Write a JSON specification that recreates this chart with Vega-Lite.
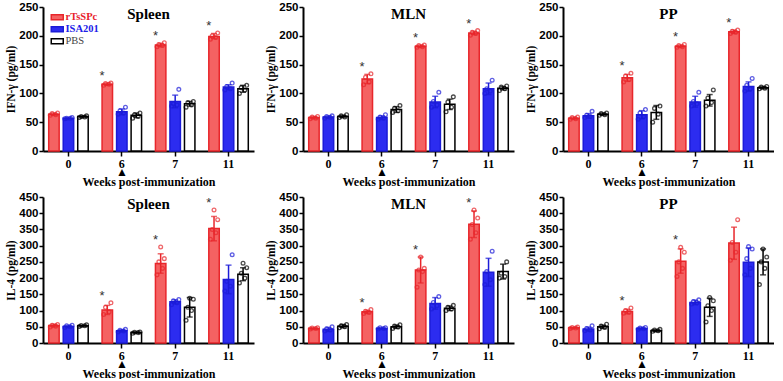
{
"$schema": "https://vega.github.io/schema/vega-lite/v6.json",
"background": "white",
"padding": {"left": 5, "top": 1, "right": 0, "bottom": 0},
"config": {
  "view": {"stroke": null},
  "font": "Liberation Sans",
  "title": {"font": "Liberation Serif", "fontSize": 15, "fontWeight": "bold", "color": "black", "anchor": "middle", "frame": "group", "baseline": "top", "offset": -21},
  "axis": {"domainColor": "black", "domainWidth": 2, "tickColor": "black", "tickWidth": 1.5, "labelFont": "Liberation Sans", "labelFontWeight": "bold", "labelFontSize": 11.5, "labelColor": "black", "titleFont": "Liberation Serif", "titleFontWeight": "bold", "titleFontSize": 11.5, "titleColor": "black", "grid": false},
  "axisY": {"labelPadding": 1, "titlePadding": 2, "tickSize": 4},
  "axisX": {"labelAngle": 0, "tickSize": 5, "labelPadding": 2, "titlePadding": -1, "labelLineHeight": 8, "labelFont": "Liberation Serif", "labelFontSize": 12, "titleFontSize": 12},
  "legend": {"symbolType": "M-1.5,-0.6H1.5V0.6H-1.5Z", "symbolSize": 64, "symbolStrokeWidth": 1.5, "labelFont": "Liberation Serif", "labelFontSize": 10.5, "labelFontWeight": "bold", "rowPadding": 0, "labelOffset": 3, "padding": 0}
},
"datasets": {
  "b": [
    {"P":"SI","w":"0","g":"rTsSPc","m":64,"lo":62,"hi":66},{"P":"SI","w":"0","g":"ISA201","m":57,"lo":56,"hi":58},{"P":"SI","w":"0","g":"PBS","m":60,"lo":58,"hi":61},
    {"P":"SI","w":"6","g":"rTsSPc","m":116,"lo":114,"hi":118},{"P":"SI","w":"6","g":"ISA201","m":68,"lo":63,"hi":73},{"P":"SI","w":"6","g":"PBS","m":62,"lo":58,"hi":66},
    {"P":"SI","w":"7","g":"rTsSPc","m":184,"lo":181,"hi":187},{"P":"SI","w":"7","g":"ISA201","m":86,"lo":75,"hi":97},{"P":"SI","w":"7","g":"PBS","m":82,"lo":78,"hi":86},
    {"P":"SI","w":"11","g":"rTsSPc","m":199,"lo":195,"hi":204},{"P":"SI","w":"11","g":"ISA201","m":111,"lo":107,"hi":115},{"P":"SI","w":"11","g":"PBS","m":108,"lo":102,"hi":114},
    {"P":"MI","w":"0","g":"rTsSPc","m":58,"lo":56,"hi":60},{"P":"MI","w":"0","g":"ISA201","m":59,"lo":57,"hi":61},{"P":"MI","w":"0","g":"PBS","m":60,"lo":58,"hi":62},
    {"P":"MI","w":"6","g":"rTsSPc","m":125,"lo":117,"hi":133},{"P":"MI","w":"6","g":"ISA201","m":58,"lo":55,"hi":61},{"P":"MI","w":"6","g":"PBS","m":72,"lo":67,"hi":77},
    {"P":"MI","w":"7","g":"rTsSPc","m":182,"lo":180,"hi":184},{"P":"MI","w":"7","g":"ISA201","m":85,"lo":75,"hi":95},{"P":"MI","w":"7","g":"PBS","m":81,"lo":72,"hi":90},
    {"P":"MI","w":"11","g":"rTsSPc","m":205,"lo":202,"hi":208},{"P":"MI","w":"11","g":"ISA201","m":108,"lo":98,"hi":118},{"P":"MI","w":"11","g":"PBS","m":109,"lo":106,"hi":112},
    {"P":"PI","w":"0","g":"rTsSPc","m":57,"lo":55,"hi":59},{"P":"PI","w":"0","g":"ISA201","m":61,"lo":57,"hi":65},{"P":"PI","w":"0","g":"PBS","m":64,"lo":62,"hi":66},
    {"P":"PI","w":"6","g":"rTsSPc","m":127,"lo":121,"hi":133},{"P":"PI","w":"6","g":"ISA201","m":63,"lo":56,"hi":70},{"P":"PI","w":"6","g":"PBS","m":67,"lo":55,"hi":79},
    {"P":"PI","w":"7","g":"rTsSPc","m":182,"lo":180,"hi":184},{"P":"PI","w":"7","g":"ISA201","m":85,"lo":76,"hi":95},{"P":"PI","w":"7","g":"PBS","m":88,"lo":78,"hi":98},
    {"P":"PI","w":"11","g":"rTsSPc","m":207,"lo":204,"hi":210},{"P":"PI","w":"11","g":"ISA201","m":112,"lo":104,"hi":120},{"P":"PI","w":"11","g":"PBS","m":110,"lo":108,"hi":112},
    {"P":"SL","w":"0","g":"rTsSPc","m":54,"lo":50,"hi":58},{"P":"SL","w":"0","g":"ISA201","m":51,"lo":48,"hi":54},{"P":"SL","w":"0","g":"PBS","m":53,"lo":51,"hi":55},
    {"P":"SL","w":"6","g":"rTsSPc","m":102,"lo":88,"hi":116},{"P":"SL","w":"6","g":"ISA201","m":38,"lo":35,"hi":41},{"P":"SL","w":"6","g":"PBS","m":32,"lo":30,"hi":34},
    {"P":"SL","w":"7","g":"rTsSPc","m":245,"lo":215,"hi":275},{"P":"SL","w":"7","g":"ISA201","m":127,"lo":121,"hi":133},{"P":"SL","w":"7","g":"PBS","m":110,"lo":80,"hi":140},
    {"P":"SL","w":"11","g":"rTsSPc","m":353,"lo":315,"hi":390},{"P":"SL","w":"11","g":"ISA201","m":196,"lo":152,"hi":240},{"P":"SL","w":"11","g":"PBS","m":212,"lo":192,"hi":232},
    {"P":"ML","w":"0","g":"rTsSPc","m":45,"lo":43,"hi":47},{"P":"ML","w":"0","g":"ISA201","m":42,"lo":36,"hi":48},{"P":"ML","w":"0","g":"PBS","m":52,"lo":47,"hi":57},
    {"P":"ML","w":"6","g":"rTsSPc","m":96,"lo":91,"hi":101},{"P":"ML","w":"6","g":"ISA201","m":45,"lo":43,"hi":47},{"P":"ML","w":"6","g":"PBS","m":50,"lo":45,"hi":55},
    {"P":"ML","w":"7","g":"rTsSPc","m":225,"lo":185,"hi":265},{"P":"ML","w":"7","g":"ISA201","m":122,"lo":104,"hi":140},{"P":"ML","w":"7","g":"PBS","m":107,"lo":100,"hi":114},
    {"P":"ML","w":"11","g":"rTsSPc","m":366,"lo":325,"hi":407},{"P":"ML","w":"11","g":"ISA201","m":218,"lo":175,"hi":261},{"P":"ML","w":"11","g":"PBS","m":220,"lo":197,"hi":243},
    {"P":"PL","w":"0","g":"rTsSPc","m":47,"lo":45,"hi":49},{"P":"PL","w":"0","g":"ISA201","m":43,"lo":37,"hi":49},{"P":"PL","w":"0","g":"PBS","m":50,"lo":45,"hi":55},
    {"P":"PL","w":"6","g":"rTsSPc","m":97,"lo":90,"hi":104},{"P":"PL","w":"6","g":"ISA201","m":45,"lo":42,"hi":48},{"P":"PL","w":"6","g":"PBS","m":38,"lo":35,"hi":41},
    {"P":"PL","w":"7","g":"rTsSPc","m":252,"lo":215,"hi":290},{"P":"PL","w":"7","g":"ISA201","m":125,"lo":118,"hi":132},{"P":"PL","w":"7","g":"PBS","m":110,"lo":82,"hi":138},
    {"P":"PL","w":"11","g":"rTsSPc","m":308,"lo":258,"hi":357},{"P":"PL","w":"11","g":"ISA201","m":249,"lo":205,"hi":293},{"P":"PL","w":"11","g":"PBS","m":250,"lo":210,"hi":290}
  ],
  "pts": [
    {"P":"SI","w":"0","g":"rTsSPc","v":[62,63,65,66],"k":[1,4,2,5]},{"P":"SI","w":"0","g":"ISA201","v":[56,57,57,58],"k":[1,4,2,5]},{"P":"SI","w":"0","g":"PBS","v":[58,59,60,61],"k":[1,4,2,5]},
    {"P":"SI","w":"6","g":"rTsSPc","v":[114,116,117,118],"k":[1,4,2,5]},{"P":"SI","w":"6","g":"ISA201","v":[64,66,70,76],"k":[1,4,2,5]},{"P":"SI","w":"6","g":"PBS","v":[57,60,63,66],"k":[1,4,2,5]},
    {"P":"SI","w":"7","g":"rTsSPc","v":[181,183,185,188],"k":[1,4,2,5]},{"P":"SI","w":"7","g":"ISA201","v":[78,80,82,107],"k":[1,4,2,5]},{"P":"SI","w":"7","g":"PBS","v":[76,80,84,86],"k":[1,4,2,5]},
    {"P":"SI","w":"11","g":"rTsSPc","v":[194,197,200,205],"k":[1,4,2,5]},{"P":"SI","w":"11","g":"ISA201","v":[106,108,112,118],"k":[1,4,2,5]},{"P":"SI","w":"11","g":"PBS","v":[100,106,110,114],"k":[1,4,2,5]},
    {"P":"MI","w":"0","g":"rTsSPc","v":[56,57,59,60],"k":[1,4,2,5]},{"P":"MI","w":"0","g":"ISA201","v":[57,58,60,61],"k":[1,4,2,5]},{"P":"MI","w":"0","g":"PBS","v":[58,59,61,63],"k":[1,4,2,5]},
    {"P":"MI","w":"6","g":"rTsSPc","v":[115,120,128,134],"k":[1,4,2,5]},{"P":"MI","w":"6","g":"ISA201","v":[55,57,59,63],"k":[1,4,2,5]},{"P":"MI","w":"6","g":"PBS","v":[67,70,74,79],"k":[1,4,2,5]},
    {"P":"MI","w":"7","g":"rTsSPc","v":[180,181,183,184],"k":[1,4,2,5]},{"P":"MI","w":"7","g":"ISA201","v":[76,80,86,102],"k":[1,4,2,5]},{"P":"MI","w":"7","g":"PBS","v":[68,76,85,94],"k":[1,4,2,5]},
    {"P":"MI","w":"11","g":"rTsSPc","v":[201,204,206,209],"k":[1,4,2,5]},{"P":"MI","w":"11","g":"ISA201","v":[100,104,108,123],"k":[1,4,2,5]},{"P":"MI","w":"11","g":"PBS","v":[105,108,111,113],"k":[1,4,2,5]},
    {"P":"PI","w":"0","g":"rTsSPc","v":[55,56,58,59],"k":[1,4,2,5]},{"P":"PI","w":"0","g":"ISA201","v":[58,60,62,69],"k":[1,4,2,5]},{"P":"PI","w":"0","g":"PBS","v":[62,63,65,66],"k":[1,4,2,5]},
    {"P":"PI","w":"6","g":"rTsSPc","v":[120,124,130,135],"k":[1,4,2,5]},{"P":"PI","w":"6","g":"ISA201","v":[55,60,66,72],"k":[1,4,2,5]},{"P":"PI","w":"6","g":"PBS","v":[50,64,74,78],"k":[1,4,2,5]},
    {"P":"PI","w":"7","g":"rTsSPc","v":[180,181,183,185],"k":[1,4,2,5]},{"P":"PI","w":"7","g":"ISA201","v":[78,82,86,102],"k":[1,4,2,5]},{"P":"PI","w":"7","g":"PBS","v":[78,84,92,106],"k":[1,4,2,5]},
    {"P":"PI","w":"11","g":"rTsSPc","v":[204,206,208,210],"k":[1,4,2,5]},{"P":"PI","w":"11","g":"ISA201","v":[104,108,114,126],"k":[1,4,2,5]},{"P":"PI","w":"11","g":"PBS","v":[108,109,111,112],"k":[1,4,2,5]},
    {"P":"SL","w":"0","g":"rTsSPc","v":[49,52,55,57],"k":[1,4,2,5]},{"P":"SL","w":"0","g":"ISA201","v":[48,50,53,55],"k":[1,4,2,5]},{"P":"SL","w":"0","g":"PBS","v":[51,53,54,56],"k":[1,4,2,5]},
    {"P":"SL","w":"6","g":"rTsSPc","v":[88,96,110,124],"k":[1,4,2,5]},{"P":"SL","w":"6","g":"ISA201","v":[34,37,39,42],"k":[1,4,2,5]},{"P":"SL","w":"6","g":"PBS","v":[30,32,33,34],"k":[1,4,2,5]},
    {"P":"SL","w":"7","g":"rTsSPc","v":[210,230,250,260,296],"k":[1,4,2,5,3]},{"P":"SL","w":"7","g":"ISA201","v":[118,124,130,134],"k":[1,4,2,5]},{"P":"SL","w":"7","g":"PBS","v":[70,100,110,135,138],"k":[1,4,2,5,3]},
    {"P":"SL","w":"11","g":"rTsSPc","v":[320,340,350,380,410],"k":[1,4,2,5,3]},{"P":"SL","w":"11","g":"ISA201","v":[160,175,190,272],"k":[1,4,2,5]},{"P":"SL","w":"11","g":"PBS","v":[185,200,215,232,246],"k":[1,4,2,5,3]},
    {"P":"ML","w":"0","g":"rTsSPc","v":[43,45,46,47],"k":[1,4,2,5]},{"P":"ML","w":"0","g":"ISA201","v":[37,40,44,50],"k":[1,4,2,5]},{"P":"ML","w":"0","g":"PBS","v":[47,50,53,57],"k":[1,4,2,5]},
    {"P":"ML","w":"6","g":"rTsSPc","v":[91,94,98,103],"k":[1,4,2,5]},{"P":"ML","w":"6","g":"ISA201","v":[43,45,47,47],"k":[1,4,2,5]},{"P":"ML","w":"6","g":"PBS","v":[45,49,52,56],"k":[1,4,2,5]},
    {"P":"ML","w":"7","g":"rTsSPc","v":[172,220,225,230,265],"k":[1,4,2,5,3]},{"P":"ML","w":"7","g":"ISA201","v":[105,115,125,143],"k":[1,4,2,5]},{"P":"ML","w":"7","g":"PBS","v":[100,105,110,116],"k":[1,4,2,5]},
    {"P":"ML","w":"11","g":"rTsSPc","v":[320,340,365,385,410],"k":[1,4,2,5,3]},{"P":"ML","w":"11","g":"ISA201","v":[180,195,220,283],"k":[1,4,2,5]},{"P":"ML","w":"11","g":"PBS","v":[200,205,215,250],"k":[1,4,2,5]},
    {"P":"PL","w":"0","g":"rTsSPc","v":[45,46,48,49],"k":[1,4,2,5]},{"P":"PL","w":"0","g":"ISA201","v":[38,40,45,53],"k":[1,4,2,5]},{"P":"PL","w":"0","g":"PBS","v":[44,48,52,58],"k":[1,4,2,5]},
    {"P":"PL","w":"6","g":"rTsSPc","v":[92,95,100,108],"k":[1,4,2,5]},{"P":"PL","w":"6","g":"ISA201","v":[42,44,46,48],"k":[1,4,2,5]},{"P":"PL","w":"6","g":"PBS","v":[36,38,40,42],"k":[1,4,2,5]},
    {"P":"PL","w":"7","g":"rTsSPc","v":[205,230,250,280,295],"k":[1,4,2,5,3]},{"P":"PL","w":"7","g":"ISA201","v":[120,124,128,133],"k":[1,4,2,5]},{"P":"PL","w":"7","g":"PBS","v":[65,100,115,130,140],"k":[1,4,2,5,3]},
    {"P":"PL","w":"11","g":"rTsSPc","v":[255,280,310,380],"k":[1,4,2,5]},{"P":"PL","w":"11","g":"ISA201","v":[210,230,260,290,297],"k":[1,4,2,5,3]},{"P":"PL","w":"11","g":"PBS","v":[180,230,250,265,290],"k":[1,4,2,5,3]}
  ]
},
"spacing": 4,
"vconcat": [
 {"spacing": 11, "hconcat": [
  {"width": 211, "height": 144, "title": "Spleen", "resolve": {"scale": {"xOffset": "independent"}},
   "encoding": {"x": {"field": "w", "type": "nominal", "sort": ["0","6","7","11"], "scale": {"paddingInner": 0.26, "paddingOuter": 0.107}, "axis": {"title": "Weeks post-immunization", "labelExpr": "datum.value=='6'?['6','▲']:datum.label"}}},
   "layer": [
    {"data": {"name": "b"}, "transform": [{"filter": "datum.P=='SI'"}], "mark": {"type": "bar", "strokeWidth": 1.5},
     "encoding": {"xOffset": {"field": "g", "type": "nominal", "scale": {"domain": ["rTsSPc","ISA201","PBS"], "paddingInner": 0.28, "paddingOuter": 0}},
      "y": {"field": "m", "type": "quantitative", "scale": {"domain": [0,250], "nice": false}, "axis": {"title": "IFN-γ (pg/ml)", "values": [0,50,100,150,200,250]}},
      "fill": {"field": "g", "type": "nominal", "scale": {"domain": ["rTsSPc","ISA201","PBS"], "range": ["#f46262","#2c2cf0","#ffffff"]}, "legend": {"title": null, "orient": "none", "legendX": 9, "legendY": 5, "encode": {"labels": {"update": {"fill": {"signal": "datum.label=='rTsSPc'?'#e8212a':datum.label=='ISA201'?'#2020e8':'#444444'"}, "fontWeight": {"signal": "datum.label=='PBS'?'normal':'bold'"}}}}}},
      "stroke": {"field": "g", "type": "nominal", "scale": {"domain": ["rTsSPc","ISA201","PBS"], "range": ["#e8262b","#1c1cd8","#000000"]}, "legend": {"title": null, "orient": "none", "legendX": 9, "legendY": 5, "encode": {"labels": {"update": {"fill": {"signal": "datum.label=='rTsSPc'?'#e8212a':datum.label=='ISA201'?'#2020e8':'#444444'"}, "fontWeight": {"signal": "datum.label=='PBS'?'normal':'bold'"}}}}}}}},
    {"data": {"name": "b"}, "transform": [{"filter": "datum.P=='SI'"}], "mark": {"type": "rule", "strokeWidth": 1.5},
     "encoding": {"xOffset": {"field": "g", "type": "nominal", "scale": {"domain": ["rTsSPc","ISA201","PBS"], "paddingInner": 0.28, "paddingOuter": 0}}, "y": {"field": "lo", "type": "quantitative", "axis": {"title": "IFN-γ (pg/ml)", "values": [0,50,100,150,200,250]}}, "y2": {"field": "hi"}, "stroke": {"field": "g", "type": "nominal", "legend": null}}},
    {"data": {"name": "b"}, "transform": [{"filter": "datum.P=='SI'"}], "mark": {"type": "tick", "orient": "horizontal", "size": 6, "thickness": 1.5},
     "encoding": {"xOffset": {"field": "g", "type": "nominal", "scale": {"domain": ["rTsSPc","ISA201","PBS"], "paddingInner": 0.28, "paddingOuter": 0}}, "y": {"field": "hi", "type": "quantitative", "axis": {"title": "IFN-γ (pg/ml)", "values": [0,50,100,150,200,250]}}, "color": {"field": "g", "type": "nominal", "scale": {"domain": ["rTsSPc","ISA201","PBS"], "range": ["#e8262b","#1c1cd8","#000000"]}, "legend": null}}},
    {"data": {"name": "b"}, "transform": [{"filter": "datum.P=='SI'"}], "mark": {"type": "tick", "orient": "horizontal", "size": 6, "thickness": 1.5},
     "encoding": {"xOffset": {"field": "g", "type": "nominal", "scale": {"domain": ["rTsSPc","ISA201","PBS"], "paddingInner": 0.28, "paddingOuter": 0}}, "y": {"field": "lo", "type": "quantitative", "axis": {"title": "IFN-γ (pg/ml)", "values": [0,50,100,150,200,250]}}, "color": {"field": "g", "type": "nominal", "scale": {"domain": ["rTsSPc","ISA201","PBS"], "range": ["#e8262b","#1c1cd8","#000000"]}, "legend": null}}},
    {"data": {"name": "pts"}, "transform": [{"filter": "datum.P=='SI'"}, {"flatten": ["v","k"]}, {"calculate": "datum.g+'-'+datum.k", "as": "s"}], "mark": {"type": "point", "filled": false, "size": 14, "strokeWidth": 1.3},
     "encoding": {"xOffset": {"field": "s", "type": "nominal", "scale": {"type": "point", "padding": 0.885, "domain": ["rTsSPc-1","rTsSPc-2","rTsSPc-3","rTsSPc-4","rTsSPc-5","a1","a2","a3","ISA201-1","ISA201-2","ISA201-3","ISA201-4","ISA201-5","b1","b2","b3","PBS-1","PBS-2","PBS-3","PBS-4","PBS-5"]}}, "y": {"field": "v", "type": "quantitative", "axis": {"title": "IFN-γ (pg/ml)", "values": [0,50,100,150,200,250]}}, "stroke": {"field": "g", "type": "nominal", "legend": null}}},
    {"data": {"name": "pts"}, "transform": [{"filter": "datum.P=='SI'&&datum.g=='rTsSPc'&&datum.w!='0'"}, {"flatten": ["v"]}, {"aggregate": [{"op": "max", "field": "v", "as": "top"}], "groupby": ["w","g"]}], "mark": {"type": "text", "text": "*", "baseline": "bottom", "fontSize": 13, "font": "Liberation Sans", "color": "#333333"},
     "encoding": {"xOffset": {"field": "g", "type": "nominal", "scale": {"domain": ["rTsSPc","ISA201","PBS"], "paddingInner": 0.28, "paddingOuter": 0}}, "y": {"field": "top", "type": "quantitative", "axis": {"title": "IFN-γ (pg/ml)", "values": [0,50,100,150,200,250]}}}}
   ]},
  {"width": 211, "height": 144, "title": "MLN", "resolve": {"scale": {"xOffset": "independent"}},
   "encoding": {"x": {"field": "w", "type": "nominal", "sort": ["0","6","7","11"], "scale": {"paddingInner": 0.26, "paddingOuter": 0.107}, "axis": {"title": "Weeks post-immunization", "labelExpr": "datum.value=='6'?['6','▲']:datum.label"}}},
   "layer": [
    {"data": {"name": "b"}, "transform": [{"filter": "datum.P=='MI'"}], "mark": {"type": "bar", "strokeWidth": 1.5},
     "encoding": {"xOffset": {"field": "g", "type": "nominal", "scale": {"domain": ["rTsSPc","ISA201","PBS"], "paddingInner": 0.28, "paddingOuter": 0}},
      "y": {"field": "m", "type": "quantitative", "scale": {"domain": [0,250], "nice": false}, "axis": {"title": "IFN-γ (pg/ml)", "values": [0,50,100,150,200,250]}},
      "fill": {"field": "g", "type": "nominal", "scale": {"domain": ["rTsSPc","ISA201","PBS"], "range": ["#f46262","#2c2cf0","#ffffff"]}, "legend": {"title": null, "orient": "none", "legendX": 9, "legendY": 5, "encode": {"labels": {"update": {"fill": {"signal": "datum.label=='rTsSPc'?'#e8212a':datum.label=='ISA201'?'#2020e8':'#444444'"}, "fontWeight": {"signal": "datum.label=='PBS'?'normal':'bold'"}}}}}},
      "stroke": {"field": "g", "type": "nominal", "scale": {"domain": ["rTsSPc","ISA201","PBS"], "range": ["#e8262b","#1c1cd8","#000000"]}, "legend": {"title": null, "orient": "none", "legendX": 9, "legendY": 5, "encode": {"labels": {"update": {"fill": {"signal": "datum.label=='rTsSPc'?'#e8212a':datum.label=='ISA201'?'#2020e8':'#444444'"}, "fontWeight": {"signal": "datum.label=='PBS'?'normal':'bold'"}}}}}}}},
    {"data": {"name": "b"}, "transform": [{"filter": "datum.P=='MI'"}], "mark": {"type": "rule", "strokeWidth": 1.5},
     "encoding": {"xOffset": {"field": "g", "type": "nominal", "scale": {"domain": ["rTsSPc","ISA201","PBS"], "paddingInner": 0.28, "paddingOuter": 0}}, "y": {"field": "lo", "type": "quantitative", "axis": {"title": "IFN-γ (pg/ml)", "values": [0,50,100,150,200,250]}}, "y2": {"field": "hi"}, "stroke": {"field": "g", "type": "nominal", "legend": null}}},
    {"data": {"name": "b"}, "transform": [{"filter": "datum.P=='MI'"}], "mark": {"type": "tick", "orient": "horizontal", "size": 6, "thickness": 1.5},
     "encoding": {"xOffset": {"field": "g", "type": "nominal", "scale": {"domain": ["rTsSPc","ISA201","PBS"], "paddingInner": 0.28, "paddingOuter": 0}}, "y": {"field": "hi", "type": "quantitative", "axis": {"title": "IFN-γ (pg/ml)", "values": [0,50,100,150,200,250]}}, "color": {"field": "g", "type": "nominal", "scale": {"domain": ["rTsSPc","ISA201","PBS"], "range": ["#e8262b","#1c1cd8","#000000"]}, "legend": null}}},
    {"data": {"name": "b"}, "transform": [{"filter": "datum.P=='MI'"}], "mark": {"type": "tick", "orient": "horizontal", "size": 6, "thickness": 1.5},
     "encoding": {"xOffset": {"field": "g", "type": "nominal", "scale": {"domain": ["rTsSPc","ISA201","PBS"], "paddingInner": 0.28, "paddingOuter": 0}}, "y": {"field": "lo", "type": "quantitative", "axis": {"title": "IFN-γ (pg/ml)", "values": [0,50,100,150,200,250]}}, "color": {"field": "g", "type": "nominal", "scale": {"domain": ["rTsSPc","ISA201","PBS"], "range": ["#e8262b","#1c1cd8","#000000"]}, "legend": null}}},
    {"data": {"name": "pts"}, "transform": [{"filter": "datum.P=='MI'"}, {"flatten": ["v","k"]}, {"calculate": "datum.g+'-'+datum.k", "as": "s"}], "mark": {"type": "point", "filled": false, "size": 14, "strokeWidth": 1.3},
     "encoding": {"xOffset": {"field": "s", "type": "nominal", "scale": {"type": "point", "padding": 0.885, "domain": ["rTsSPc-1","rTsSPc-2","rTsSPc-3","rTsSPc-4","rTsSPc-5","a1","a2","a3","ISA201-1","ISA201-2","ISA201-3","ISA201-4","ISA201-5","b1","b2","b3","PBS-1","PBS-2","PBS-3","PBS-4","PBS-5"]}}, "y": {"field": "v", "type": "quantitative", "axis": {"title": "IFN-γ (pg/ml)", "values": [0,50,100,150,200,250]}}, "stroke": {"field": "g", "type": "nominal", "legend": null}}},
    {"data": {"name": "pts"}, "transform": [{"filter": "datum.P=='MI'&&datum.g=='rTsSPc'&&datum.w!='0'"}, {"flatten": ["v"]}, {"aggregate": [{"op": "max", "field": "v", "as": "top"}], "groupby": ["w","g"]}], "mark": {"type": "text", "text": "*", "baseline": "bottom", "fontSize": 13, "font": "Liberation Sans", "color": "#333333"},
     "encoding": {"xOffset": {"field": "g", "type": "nominal", "scale": {"domain": ["rTsSPc","ISA201","PBS"], "paddingInner": 0.28, "paddingOuter": 0}}, "y": {"field": "top", "type": "quantitative", "axis": {"title": "IFN-γ (pg/ml)", "values": [0,50,100,150,200,250]}}}}
   ]},
  {"width": 211, "height": 144, "title": "PP", "resolve": {"scale": {"xOffset": "independent"}},
   "encoding": {"x": {"field": "w", "type": "nominal", "sort": ["0","6","7","11"], "scale": {"paddingInner": 0.26, "paddingOuter": 0.107}, "axis": {"title": "Weeks post-immunization", "labelExpr": "datum.value=='6'?['6','▲']:datum.label"}}},
   "layer": [
    {"data": {"name": "b"}, "transform": [{"filter": "datum.P=='PI'"}], "mark": {"type": "bar", "strokeWidth": 1.5},
     "encoding": {"xOffset": {"field": "g", "type": "nominal", "scale": {"domain": ["rTsSPc","ISA201","PBS"], "paddingInner": 0.28, "paddingOuter": 0}},
      "y": {"field": "m", "type": "quantitative", "scale": {"domain": [0,250], "nice": false}, "axis": {"title": "IFN-γ (pg/ml)", "values": [0,50,100,150,200,250]}},
      "fill": {"field": "g", "type": "nominal", "scale": {"domain": ["rTsSPc","ISA201","PBS"], "range": ["#f46262","#2c2cf0","#ffffff"]}, "legend": {"title": null, "orient": "none", "legendX": 9, "legendY": 5, "encode": {"labels": {"update": {"fill": {"signal": "datum.label=='rTsSPc'?'#e8212a':datum.label=='ISA201'?'#2020e8':'#444444'"}, "fontWeight": {"signal": "datum.label=='PBS'?'normal':'bold'"}}}}}},
      "stroke": {"field": "g", "type": "nominal", "scale": {"domain": ["rTsSPc","ISA201","PBS"], "range": ["#e8262b","#1c1cd8","#000000"]}, "legend": {"title": null, "orient": "none", "legendX": 9, "legendY": 5, "encode": {"labels": {"update": {"fill": {"signal": "datum.label=='rTsSPc'?'#e8212a':datum.label=='ISA201'?'#2020e8':'#444444'"}, "fontWeight": {"signal": "datum.label=='PBS'?'normal':'bold'"}}}}}}}},
    {"data": {"name": "b"}, "transform": [{"filter": "datum.P=='PI'"}], "mark": {"type": "rule", "strokeWidth": 1.5},
     "encoding": {"xOffset": {"field": "g", "type": "nominal", "scale": {"domain": ["rTsSPc","ISA201","PBS"], "paddingInner": 0.28, "paddingOuter": 0}}, "y": {"field": "lo", "type": "quantitative", "axis": {"title": "IFN-γ (pg/ml)", "values": [0,50,100,150,200,250]}}, "y2": {"field": "hi"}, "stroke": {"field": "g", "type": "nominal", "legend": null}}},
    {"data": {"name": "b"}, "transform": [{"filter": "datum.P=='PI'"}], "mark": {"type": "tick", "orient": "horizontal", "size": 6, "thickness": 1.5},
     "encoding": {"xOffset": {"field": "g", "type": "nominal", "scale": {"domain": ["rTsSPc","ISA201","PBS"], "paddingInner": 0.28, "paddingOuter": 0}}, "y": {"field": "hi", "type": "quantitative", "axis": {"title": "IFN-γ (pg/ml)", "values": [0,50,100,150,200,250]}}, "color": {"field": "g", "type": "nominal", "scale": {"domain": ["rTsSPc","ISA201","PBS"], "range": ["#e8262b","#1c1cd8","#000000"]}, "legend": null}}},
    {"data": {"name": "b"}, "transform": [{"filter": "datum.P=='PI'"}], "mark": {"type": "tick", "orient": "horizontal", "size": 6, "thickness": 1.5},
     "encoding": {"xOffset": {"field": "g", "type": "nominal", "scale": {"domain": ["rTsSPc","ISA201","PBS"], "paddingInner": 0.28, "paddingOuter": 0}}, "y": {"field": "lo", "type": "quantitative", "axis": {"title": "IFN-γ (pg/ml)", "values": [0,50,100,150,200,250]}}, "color": {"field": "g", "type": "nominal", "scale": {"domain": ["rTsSPc","ISA201","PBS"], "range": ["#e8262b","#1c1cd8","#000000"]}, "legend": null}}},
    {"data": {"name": "pts"}, "transform": [{"filter": "datum.P=='PI'"}, {"flatten": ["v","k"]}, {"calculate": "datum.g+'-'+datum.k", "as": "s"}], "mark": {"type": "point", "filled": false, "size": 14, "strokeWidth": 1.3},
     "encoding": {"xOffset": {"field": "s", "type": "nominal", "scale": {"type": "point", "padding": 0.885, "domain": ["rTsSPc-1","rTsSPc-2","rTsSPc-3","rTsSPc-4","rTsSPc-5","a1","a2","a3","ISA201-1","ISA201-2","ISA201-3","ISA201-4","ISA201-5","b1","b2","b3","PBS-1","PBS-2","PBS-3","PBS-4","PBS-5"]}}, "y": {"field": "v", "type": "quantitative", "axis": {"title": "IFN-γ (pg/ml)", "values": [0,50,100,150,200,250]}}, "stroke": {"field": "g", "type": "nominal", "legend": null}}},
    {"data": {"name": "pts"}, "transform": [{"filter": "datum.P=='PI'&&datum.g=='rTsSPc'&&datum.w!='0'"}, {"flatten": ["v"]}, {"aggregate": [{"op": "max", "field": "v", "as": "top"}], "groupby": ["w","g"]}], "mark": {"type": "text", "text": "*", "baseline": "bottom", "fontSize": 13, "font": "Liberation Sans", "color": "#333333"},
     "encoding": {"xOffset": {"field": "g", "type": "nominal", "scale": {"domain": ["rTsSPc","ISA201","PBS"], "paddingInner": 0.28, "paddingOuter": 0}}, "y": {"field": "top", "type": "quantitative", "axis": {"title": "IFN-γ (pg/ml)", "values": [0,50,100,150,200,250]}}}}
   ]}
 ]},
 {"spacing": 11, "hconcat": [
  {"width": 211, "height": 146, "title": "Spleen", "resolve": {"scale": {"xOffset": "independent"}},
   "encoding": {"x": {"field": "w", "type": "nominal", "sort": ["0","6","7","11"], "scale": {"paddingInner": 0.26, "paddingOuter": 0.107}, "axis": {"title": "Weeks post-immunization", "labelExpr": "datum.value=='6'?['6','▲']:datum.label"}}},
   "layer": [
    {"data": {"name": "b"}, "transform": [{"filter": "datum.P=='SL'"}], "mark": {"type": "bar", "strokeWidth": 1.5},
     "encoding": {"xOffset": {"field": "g", "type": "nominal", "scale": {"domain": ["rTsSPc","ISA201","PBS"], "paddingInner": 0.28, "paddingOuter": 0}},
      "y": {"field": "m", "type": "quantitative", "scale": {"domain": [0,450], "nice": false}, "axis": {"title": "IL-4 (pg/ml)", "values": [0,50,100,150,200,250,300,350,400,450]}},
      "fill": {"field": "g", "type": "nominal", "scale": {"domain": ["rTsSPc","ISA201","PBS"], "range": ["#f46262","#2c2cf0","#ffffff"]}, "legend": {"title": null, "orient": "none", "legendX": 9, "legendY": 5, "encode": {"labels": {"update": {"fill": {"signal": "datum.label=='rTsSPc'?'#e8212a':datum.label=='ISA201'?'#2020e8':'#444444'"}, "fontWeight": {"signal": "datum.label=='PBS'?'normal':'bold'"}}}}}},
      "stroke": {"field": "g", "type": "nominal", "scale": {"domain": ["rTsSPc","ISA201","PBS"], "range": ["#e8262b","#1c1cd8","#000000"]}, "legend": {"title": null, "orient": "none", "legendX": 9, "legendY": 5, "encode": {"labels": {"update": {"fill": {"signal": "datum.label=='rTsSPc'?'#e8212a':datum.label=='ISA201'?'#2020e8':'#444444'"}, "fontWeight": {"signal": "datum.label=='PBS'?'normal':'bold'"}}}}}}}},
    {"data": {"name": "b"}, "transform": [{"filter": "datum.P=='SL'"}], "mark": {"type": "rule", "strokeWidth": 1.5},
     "encoding": {"xOffset": {"field": "g", "type": "nominal", "scale": {"domain": ["rTsSPc","ISA201","PBS"], "paddingInner": 0.28, "paddingOuter": 0}}, "y": {"field": "lo", "type": "quantitative", "axis": {"title": "IL-4 (pg/ml)", "values": [0,50,100,150,200,250,300,350,400,450]}}, "y2": {"field": "hi"}, "stroke": {"field": "g", "type": "nominal", "legend": null}}},
    {"data": {"name": "b"}, "transform": [{"filter": "datum.P=='SL'"}], "mark": {"type": "tick", "orient": "horizontal", "size": 6, "thickness": 1.5},
     "encoding": {"xOffset": {"field": "g", "type": "nominal", "scale": {"domain": ["rTsSPc","ISA201","PBS"], "paddingInner": 0.28, "paddingOuter": 0}}, "y": {"field": "hi", "type": "quantitative", "axis": {"title": "IL-4 (pg/ml)", "values": [0,50,100,150,200,250,300,350,400,450]}}, "color": {"field": "g", "type": "nominal", "scale": {"domain": ["rTsSPc","ISA201","PBS"], "range": ["#e8262b","#1c1cd8","#000000"]}, "legend": null}}},
    {"data": {"name": "b"}, "transform": [{"filter": "datum.P=='SL'"}], "mark": {"type": "tick", "orient": "horizontal", "size": 6, "thickness": 1.5},
     "encoding": {"xOffset": {"field": "g", "type": "nominal", "scale": {"domain": ["rTsSPc","ISA201","PBS"], "paddingInner": 0.28, "paddingOuter": 0}}, "y": {"field": "lo", "type": "quantitative", "axis": {"title": "IL-4 (pg/ml)", "values": [0,50,100,150,200,250,300,350,400,450]}}, "color": {"field": "g", "type": "nominal", "scale": {"domain": ["rTsSPc","ISA201","PBS"], "range": ["#e8262b","#1c1cd8","#000000"]}, "legend": null}}},
    {"data": {"name": "pts"}, "transform": [{"filter": "datum.P=='SL'"}, {"flatten": ["v","k"]}, {"calculate": "datum.g+'-'+datum.k", "as": "s"}], "mark": {"type": "point", "filled": false, "size": 14, "strokeWidth": 1.3},
     "encoding": {"xOffset": {"field": "s", "type": "nominal", "scale": {"type": "point", "padding": 0.885, "domain": ["rTsSPc-1","rTsSPc-2","rTsSPc-3","rTsSPc-4","rTsSPc-5","a1","a2","a3","ISA201-1","ISA201-2","ISA201-3","ISA201-4","ISA201-5","b1","b2","b3","PBS-1","PBS-2","PBS-3","PBS-4","PBS-5"]}}, "y": {"field": "v", "type": "quantitative", "axis": {"title": "IL-4 (pg/ml)", "values": [0,50,100,150,200,250,300,350,400,450]}}, "stroke": {"field": "g", "type": "nominal", "legend": null}}},
    {"data": {"name": "pts"}, "transform": [{"filter": "datum.P=='SL'&&datum.g=='rTsSPc'&&datum.w!='0'"}, {"flatten": ["v"]}, {"aggregate": [{"op": "max", "field": "v", "as": "top"}], "groupby": ["w","g"]}], "mark": {"type": "text", "text": "*", "baseline": "bottom", "fontSize": 13, "font": "Liberation Sans", "color": "#333333"},
     "encoding": {"xOffset": {"field": "g", "type": "nominal", "scale": {"domain": ["rTsSPc","ISA201","PBS"], "paddingInner": 0.28, "paddingOuter": 0}}, "y": {"field": "top", "type": "quantitative", "axis": {"title": "IL-4 (pg/ml)", "values": [0,50,100,150,200,250,300,350,400,450]}}}}
   ]},
  {"width": 211, "height": 146, "title": "MLN", "resolve": {"scale": {"xOffset": "independent"}},
   "encoding": {"x": {"field": "w", "type": "nominal", "sort": ["0","6","7","11"], "scale": {"paddingInner": 0.26, "paddingOuter": 0.107}, "axis": {"title": "Weeks post-immunization", "labelExpr": "datum.value=='6'?['6','▲']:datum.label"}}},
   "layer": [
    {"data": {"name": "b"}, "transform": [{"filter": "datum.P=='ML'"}], "mark": {"type": "bar", "strokeWidth": 1.5},
     "encoding": {"xOffset": {"field": "g", "type": "nominal", "scale": {"domain": ["rTsSPc","ISA201","PBS"], "paddingInner": 0.28, "paddingOuter": 0}},
      "y": {"field": "m", "type": "quantitative", "scale": {"domain": [0,450], "nice": false}, "axis": {"title": "IL-4 (pg/ml)", "values": [0,50,100,150,200,250,300,350,400,450]}},
      "fill": {"field": "g", "type": "nominal", "scale": {"domain": ["rTsSPc","ISA201","PBS"], "range": ["#f46262","#2c2cf0","#ffffff"]}, "legend": {"title": null, "orient": "none", "legendX": 9, "legendY": 5, "encode": {"labels": {"update": {"fill": {"signal": "datum.label=='rTsSPc'?'#e8212a':datum.label=='ISA201'?'#2020e8':'#444444'"}, "fontWeight": {"signal": "datum.label=='PBS'?'normal':'bold'"}}}}}},
      "stroke": {"field": "g", "type": "nominal", "scale": {"domain": ["rTsSPc","ISA201","PBS"], "range": ["#e8262b","#1c1cd8","#000000"]}, "legend": {"title": null, "orient": "none", "legendX": 9, "legendY": 5, "encode": {"labels": {"update": {"fill": {"signal": "datum.label=='rTsSPc'?'#e8212a':datum.label=='ISA201'?'#2020e8':'#444444'"}, "fontWeight": {"signal": "datum.label=='PBS'?'normal':'bold'"}}}}}}}},
    {"data": {"name": "b"}, "transform": [{"filter": "datum.P=='ML'"}], "mark": {"type": "rule", "strokeWidth": 1.5},
     "encoding": {"xOffset": {"field": "g", "type": "nominal", "scale": {"domain": ["rTsSPc","ISA201","PBS"], "paddingInner": 0.28, "paddingOuter": 0}}, "y": {"field": "lo", "type": "quantitative", "axis": {"title": "IL-4 (pg/ml)", "values": [0,50,100,150,200,250,300,350,400,450]}}, "y2": {"field": "hi"}, "stroke": {"field": "g", "type": "nominal", "legend": null}}},
    {"data": {"name": "b"}, "transform": [{"filter": "datum.P=='ML'"}], "mark": {"type": "tick", "orient": "horizontal", "size": 6, "thickness": 1.5},
     "encoding": {"xOffset": {"field": "g", "type": "nominal", "scale": {"domain": ["rTsSPc","ISA201","PBS"], "paddingInner": 0.28, "paddingOuter": 0}}, "y": {"field": "hi", "type": "quantitative", "axis": {"title": "IL-4 (pg/ml)", "values": [0,50,100,150,200,250,300,350,400,450]}}, "color": {"field": "g", "type": "nominal", "scale": {"domain": ["rTsSPc","ISA201","PBS"], "range": ["#e8262b","#1c1cd8","#000000"]}, "legend": null}}},
    {"data": {"name": "b"}, "transform": [{"filter": "datum.P=='ML'"}], "mark": {"type": "tick", "orient": "horizontal", "size": 6, "thickness": 1.5},
     "encoding": {"xOffset": {"field": "g", "type": "nominal", "scale": {"domain": ["rTsSPc","ISA201","PBS"], "paddingInner": 0.28, "paddingOuter": 0}}, "y": {"field": "lo", "type": "quantitative", "axis": {"title": "IL-4 (pg/ml)", "values": [0,50,100,150,200,250,300,350,400,450]}}, "color": {"field": "g", "type": "nominal", "scale": {"domain": ["rTsSPc","ISA201","PBS"], "range": ["#e8262b","#1c1cd8","#000000"]}, "legend": null}}},
    {"data": {"name": "pts"}, "transform": [{"filter": "datum.P=='ML'"}, {"flatten": ["v","k"]}, {"calculate": "datum.g+'-'+datum.k", "as": "s"}], "mark": {"type": "point", "filled": false, "size": 14, "strokeWidth": 1.3},
     "encoding": {"xOffset": {"field": "s", "type": "nominal", "scale": {"type": "point", "padding": 0.885, "domain": ["rTsSPc-1","rTsSPc-2","rTsSPc-3","rTsSPc-4","rTsSPc-5","a1","a2","a3","ISA201-1","ISA201-2","ISA201-3","ISA201-4","ISA201-5","b1","b2","b3","PBS-1","PBS-2","PBS-3","PBS-4","PBS-5"]}}, "y": {"field": "v", "type": "quantitative", "axis": {"title": "IL-4 (pg/ml)", "values": [0,50,100,150,200,250,300,350,400,450]}}, "stroke": {"field": "g", "type": "nominal", "legend": null}}},
    {"data": {"name": "pts"}, "transform": [{"filter": "datum.P=='ML'&&datum.g=='rTsSPc'&&datum.w!='0'"}, {"flatten": ["v"]}, {"aggregate": [{"op": "max", "field": "v", "as": "top"}], "groupby": ["w","g"]}], "mark": {"type": "text", "text": "*", "baseline": "bottom", "fontSize": 13, "font": "Liberation Sans", "color": "#333333"},
     "encoding": {"xOffset": {"field": "g", "type": "nominal", "scale": {"domain": ["rTsSPc","ISA201","PBS"], "paddingInner": 0.28, "paddingOuter": 0}}, "y": {"field": "top", "type": "quantitative", "axis": {"title": "IL-4 (pg/ml)", "values": [0,50,100,150,200,250,300,350,400,450]}}}}
   ]},
  {"width": 211, "height": 146, "title": "PP", "resolve": {"scale": {"xOffset": "independent"}},
   "encoding": {"x": {"field": "w", "type": "nominal", "sort": ["0","6","7","11"], "scale": {"paddingInner": 0.26, "paddingOuter": 0.107}, "axis": {"title": "Weeks post-immunization", "labelExpr": "datum.value=='6'?['6','▲']:datum.label"}}},
   "layer": [
    {"data": {"name": "b"}, "transform": [{"filter": "datum.P=='PL'"}], "mark": {"type": "bar", "strokeWidth": 1.5},
     "encoding": {"xOffset": {"field": "g", "type": "nominal", "scale": {"domain": ["rTsSPc","ISA201","PBS"], "paddingInner": 0.28, "paddingOuter": 0}},
      "y": {"field": "m", "type": "quantitative", "scale": {"domain": [0,450], "nice": false}, "axis": {"title": "IL-4 (pg/ml)", "values": [0,50,100,150,200,250,300,350,400,450]}},
      "fill": {"field": "g", "type": "nominal", "scale": {"domain": ["rTsSPc","ISA201","PBS"], "range": ["#f46262","#2c2cf0","#ffffff"]}, "legend": {"title": null, "orient": "none", "legendX": 9, "legendY": 5, "encode": {"labels": {"update": {"fill": {"signal": "datum.label=='rTsSPc'?'#e8212a':datum.label=='ISA201'?'#2020e8':'#444444'"}, "fontWeight": {"signal": "datum.label=='PBS'?'normal':'bold'"}}}}}},
      "stroke": {"field": "g", "type": "nominal", "scale": {"domain": ["rTsSPc","ISA201","PBS"], "range": ["#e8262b","#1c1cd8","#000000"]}, "legend": {"title": null, "orient": "none", "legendX": 9, "legendY": 5, "encode": {"labels": {"update": {"fill": {"signal": "datum.label=='rTsSPc'?'#e8212a':datum.label=='ISA201'?'#2020e8':'#444444'"}, "fontWeight": {"signal": "datum.label=='PBS'?'normal':'bold'"}}}}}}}},
    {"data": {"name": "b"}, "transform": [{"filter": "datum.P=='PL'"}], "mark": {"type": "rule", "strokeWidth": 1.5},
     "encoding": {"xOffset": {"field": "g", "type": "nominal", "scale": {"domain": ["rTsSPc","ISA201","PBS"], "paddingInner": 0.28, "paddingOuter": 0}}, "y": {"field": "lo", "type": "quantitative", "axis": {"title": "IL-4 (pg/ml)", "values": [0,50,100,150,200,250,300,350,400,450]}}, "y2": {"field": "hi"}, "stroke": {"field": "g", "type": "nominal", "legend": null}}},
    {"data": {"name": "b"}, "transform": [{"filter": "datum.P=='PL'"}], "mark": {"type": "tick", "orient": "horizontal", "size": 6, "thickness": 1.5},
     "encoding": {"xOffset": {"field": "g", "type": "nominal", "scale": {"domain": ["rTsSPc","ISA201","PBS"], "paddingInner": 0.28, "paddingOuter": 0}}, "y": {"field": "hi", "type": "quantitative", "axis": {"title": "IL-4 (pg/ml)", "values": [0,50,100,150,200,250,300,350,400,450]}}, "color": {"field": "g", "type": "nominal", "scale": {"domain": ["rTsSPc","ISA201","PBS"], "range": ["#e8262b","#1c1cd8","#000000"]}, "legend": null}}},
    {"data": {"name": "b"}, "transform": [{"filter": "datum.P=='PL'"}], "mark": {"type": "tick", "orient": "horizontal", "size": 6, "thickness": 1.5},
     "encoding": {"xOffset": {"field": "g", "type": "nominal", "scale": {"domain": ["rTsSPc","ISA201","PBS"], "paddingInner": 0.28, "paddingOuter": 0}}, "y": {"field": "lo", "type": "quantitative", "axis": {"title": "IL-4 (pg/ml)", "values": [0,50,100,150,200,250,300,350,400,450]}}, "color": {"field": "g", "type": "nominal", "scale": {"domain": ["rTsSPc","ISA201","PBS"], "range": ["#e8262b","#1c1cd8","#000000"]}, "legend": null}}},
    {"data": {"name": "pts"}, "transform": [{"filter": "datum.P=='PL'"}, {"flatten": ["v","k"]}, {"calculate": "datum.g+'-'+datum.k", "as": "s"}], "mark": {"type": "point", "filled": false, "size": 14, "strokeWidth": 1.3},
     "encoding": {"xOffset": {"field": "s", "type": "nominal", "scale": {"type": "point", "padding": 0.885, "domain": ["rTsSPc-1","rTsSPc-2","rTsSPc-3","rTsSPc-4","rTsSPc-5","a1","a2","a3","ISA201-1","ISA201-2","ISA201-3","ISA201-4","ISA201-5","b1","b2","b3","PBS-1","PBS-2","PBS-3","PBS-4","PBS-5"]}}, "y": {"field": "v", "type": "quantitative", "axis": {"title": "IL-4 (pg/ml)", "values": [0,50,100,150,200,250,300,350,400,450]}}, "stroke": {"field": "g", "type": "nominal", "legend": null}}},
    {"data": {"name": "pts"}, "transform": [{"filter": "datum.P=='PL'&&datum.g=='rTsSPc'&&datum.w!='0'&&datum.w!='11'"}, {"flatten": ["v"]}, {"aggregate": [{"op": "max", "field": "v", "as": "top"}], "groupby": ["w","g"]}], "mark": {"type": "text", "text": "*", "baseline": "bottom", "fontSize": 13, "font": "Liberation Sans", "color": "#333333"},
     "encoding": {"xOffset": {"field": "g", "type": "nominal", "scale": {"domain": ["rTsSPc","ISA201","PBS"], "paddingInner": 0.28, "paddingOuter": 0}}, "y": {"field": "top", "type": "quantitative", "axis": {"title": "IL-4 (pg/ml)", "values": [0,50,100,150,200,250,300,350,400,450]}}}}
   ]}
 ]}
]
}
